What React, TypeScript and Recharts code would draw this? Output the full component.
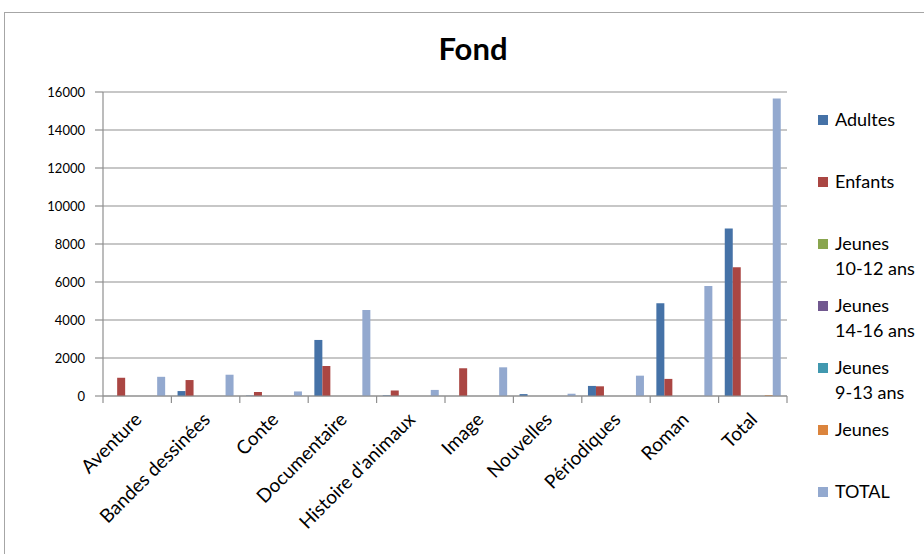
import { Bar, BarChart, CartesianGrid, Legend, XAxis, YAxis } from 'recharts'

const categories = [
  'Aventure',
  'Bandes dessinées',
  'Conte',
  'Documentaire',
  "Histoire d'animaux",
  'Image',
  'Nouvelles',
  'Périodiques',
  'Roman',
  'Total',
]

const adultes = [0, 260, 20, 2950, 30, 0, 100, 530, 4880, 8820]
const enfants = [960, 840, 210, 1580, 290, 1460, 0, 510, 900, 6770]
const jeunes1012 = [0, 0, 0, 0, 0, 0, 0, 0, 0, 0]
const jeunes1416 = [0, 0, 0, 0, 0, 0, 0, 0, 0, 0]
const jeunes913 = [0, 0, 0, 0, 0, 0, 0, 0, 0, 0]
const jeunes = [0, 0, 0, 0, 0, 0, 0, 0, 0, 40]
const totalSerie = [1010, 1120, 240, 4530, 320, 1510, 120, 1070, 5790, 15660]

const yTicks = [0, 2000, 4000, 6000, 8000, 10000, 12000, 14000, 16000]

const series = [
  { key: 'adultes', name: 'Adultes', color: '#4572A7', values: adultes },
  { key: 'enfants', name: 'Enfants', color: '#AA4643', values: enfants },
  { key: 'j1012', name: 'Jeunes 10-12 ans', color: '#89A54E', values: jeunes1012 },
  { key: 'j1416', name: 'Jeunes 14-16 ans', color: '#71588F', values: jeunes1416 },
  { key: 'j913', name: 'Jeunes 9-13 ans', color: '#4198AF', values: jeunes913 },
  { key: 'jeunes', name: 'Jeunes', color: '#DB843D', values: jeunes },
  { key: 'total', name: 'TOTAL', color: '#93A9CF', values: totalSerie },
]

const data = categories.map((name, i) => {
  const row: Record<string, string | number> = { name }
  series.forEach((s) => {
    row[s.key] = s.values[i]
  })
  return row
})

const FONT = 'Lato, "Open Sans", sans-serif'
const AXIS = '#8f8f8f'

// label rotated at -45deg, plus the tick marks that Excel puts between categories
function CategoryTick({ x, y, width, index, visibleTicksCount, payload }: any) {
  const step = width / visibleTicksCount
  const left = x - step / 2
  return (
    <g>
      <line x1={left} x2={left} y1={y} y2={y + 7} stroke={AXIS} strokeWidth={1.2} />
      {index === visibleTicksCount - 1 && (
        <line x1={x + step / 2} x2={x + step / 2} y1={y} y2={y + 7} stroke={AXIS} strokeWidth={1.2} />
      )}
      <g transform={`translate(${x + 1},${y + 20})`}>
        <text transform="rotate(-45)" textAnchor="end" dy="0.35em" fontSize={19} fontFamily={FONT} fill="#000">
          {payload.value}
        </text>
      </g>
    </g>
  )
}

function LegendBox({ payload }: any) {
  const order = series.map((s) => s.name)
  const items = [...(payload || [])].sort((a: any, b: any) => order.indexOf(a.value) - order.indexOf(b.value))
  return (
    <div style={{ fontFamily: FONT, fontSize: 18, color: '#000' }}>
      {items.map((p: any) => {
        const [first, ...rest] = String(p.value).split(' ')
        return (
          <div key={p.value} style={{ height: 62, display: 'flex', alignItems: 'flex-start' }}>
            <span
              style={{ width: 10, height: 10, background: p.color, marginTop: 8, marginRight: 7, flex: 'none' }}
            />
            <span style={{ width: 86, lineHeight: '25px' }}>
              {first} <span style={{ whiteSpace: 'nowrap' }}>{rest.join(' ')}</span>
            </span>
          </div>
        )
      })}
    </div>
  )
}

export default function App() {
  return (
    <div style={{ position: 'relative', width: 924, height: 554, overflow: 'hidden', background: '#fff' }}>
      <style>{'body{margin:0}'}</style>
      <div
        style={{
          position: 'absolute',
          left: 4,
          top: 12,
          width: 940,
          height: 560,
          borderLeft: '1.5px solid #a6a6a6',
          borderTop: '1.5px solid #a6a6a6',
        }}
      />
      <div
        style={{
          position: 'absolute',
          left: 0,
          top: 29,
          width: 946,
          textAlign: 'center',
          fontFamily: FONT,
          fontWeight: 'bold',
          fontSize: 31,
          color: '#000',
        }}
      >
        Fond
      </div>
      <BarChart
        width={924}
        height={554}
        data={data}
        margin={{ top: 92, right: 137, left: 0, bottom: 0 }}
        barCategoryGap="9%"
        barGap={0}
        style={{ position: 'absolute', left: 0, top: 0 }}
      >
        <CartesianGrid vertical={false} stroke={AXIS} strokeWidth={1.2} />
        <XAxis
          dataKey="name"
          type="category"
          axisLine={{ stroke: AXIS, strokeWidth: 1.2 }}
          tickLine={false}
          tickSize={0}
          tickMargin={0}
          height={158}
          interval={0}
          tick={<CategoryTick />}
        />
        <YAxis
          width={103}
          domain={[0, 16000]}
          ticks={yTicks}
          interval={0}
          tickSize={8}
          tickMargin={10}
          axisLine={{ stroke: AXIS, strokeWidth: 1.2 }}
          tickLine={{ stroke: AXIS, strokeWidth: 1.2 }}
          tick={{ fontSize: 13, fontFamily: FONT, fill: '#000' }}
        />
        <Legend
          layout="vertical"
          align="center"
          verticalAlign="middle"
          content={<LegendBox />}
          wrapperStyle={{ left: 818, top: 107, width: 104 }}
        />
        {series.map((s) => (
          <Bar key={s.key} dataKey={s.key} name={s.name} fill={s.color} isAnimationActive={false} />
        ))}
      </BarChart>
    </div>
  )
}
